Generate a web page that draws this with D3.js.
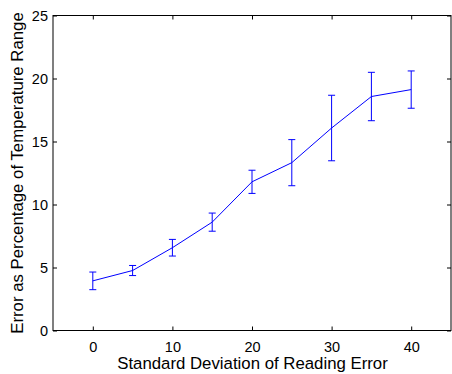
<!DOCTYPE html>
<html><head><meta charset="utf-8">
<script src="https://cdn.jsdelivr.net/npm/d3@7"></script>
<style>body{margin:0;background:#fff}svg{display:block}text{font-family:"Liberation Sans",Arial,sans-serif}</style>
</head><body>
<script>
const xValues = [0, 5, 10, 15, 20, 25, 30, 35, 40];
const meanError = [3.94, 4.76, 6.57, 8.6, 11.8, 13.32, 16.07, 18.57, 19.12];
const errHalf = [0.7, 0.4, 0.66, 0.72, 0.92, 1.83, 2.6, 1.92, 1.48];
const xTicks = [0, 10, 20, 30, 40];
const yTicks = [0, 5, 10, 15, 20, 25];

const W = 452, H = 374;
const L = 53, R = 451, T = 15.5, B = 330.5;
const svg = d3.select("body").append("svg").attr("width", W).attr("height", H);
const x = d3.scaleLinear().domain([-5, 45]).range([L, R]);
const y = d3.scaleLinear().domain([0, 25]).range([B, T]);

const fs = 14.5, lfs = 16.8;
const gB = svg.append("g").attr("transform", `translate(0,${B})`)
  .call(d3.axisBottom(x).tickValues(xTicks).tickSizeInner(-4).tickSizeOuter(0));
const gT = svg.append("g").attr("transform", `translate(0,${T})`)
  .call(d3.axisTop(x).tickValues(xTicks).tickSizeInner(-4).tickSizeOuter(0).tickFormat(""));
const gL = svg.append("g").attr("transform", `translate(${L},0)`)
  .call(d3.axisLeft(y).tickValues(yTicks).tickSizeInner(-4).tickSizeOuter(0).tickPadding(5));
const gR = svg.append("g").attr("transform", `translate(${R},0)`)
  .call(d3.axisRight(y).tickValues(yTicks).tickSizeInner(-4).tickSizeOuter(0).tickFormat(""));
[gB, gT, gL, gR].forEach(g => {
  g.selectAll("path.domain").remove();
  g.selectAll("line").attr("stroke", "#000");
  g.selectAll("text").attr("font-size", fs).attr("fill", "#000").style("font-family", '"Liberation Sans",Arial,sans-serif');
});
gB.selectAll("text").attr("y", 21).attr("dy", 0);
gL.selectAll("text").attr("x", -5).attr("dy", "0.36em");

svg.append("rect").attr("x", L).attr("y", T).attr("width", R - L).attr("height", B - T)
  .attr("fill", "none").attr("stroke", "#000").attr("stroke-width", 1);

const pts = xValues.map((v, i) => [v, meanError[i], errHalf[i]]);
svg.append("path").datum(pts)
  .attr("fill", "none").attr("stroke", "#0000ff").attr("stroke-width", 1)
  .attr("d", d3.line().x(d => x(d[0])).y(d => y(d[1])));

const eb = svg.append("g");
const cap = 3.5;
pts.forEach(d => {
  const cx = x(d[0]), y1 = y(d[1] + d[2]), y0 = y(d[1] - d[2]);
  [[cx, cx, y1, y0], [cx - cap, cx + cap, y1, y1], [cx - cap, cx + cap, y0, y0]].forEach(s => {
    eb.append("line").attr("x1", s[0]).attr("x2", s[1]).attr("y1", s[2]).attr("y2", s[3])
      .attr("stroke", "#0000ff").attr("stroke-width", 1);
  });
});

svg.append("text").attr("x", (L + R) / 2 + 0.5).attr("y", 369).attr("text-anchor", "middle")
  .attr("font-size", lfs).attr("fill", "#000").text("Standard Deviation of Reading Error");
svg.append("text").attr("transform", `translate(22.5,${(T + B) / 2}) rotate(-90)`).attr("text-anchor", "middle")
  .attr("font-size", lfs).attr("fill", "#000").text("Error as Percentage of Temperature Range");
</script>
</body></html>
